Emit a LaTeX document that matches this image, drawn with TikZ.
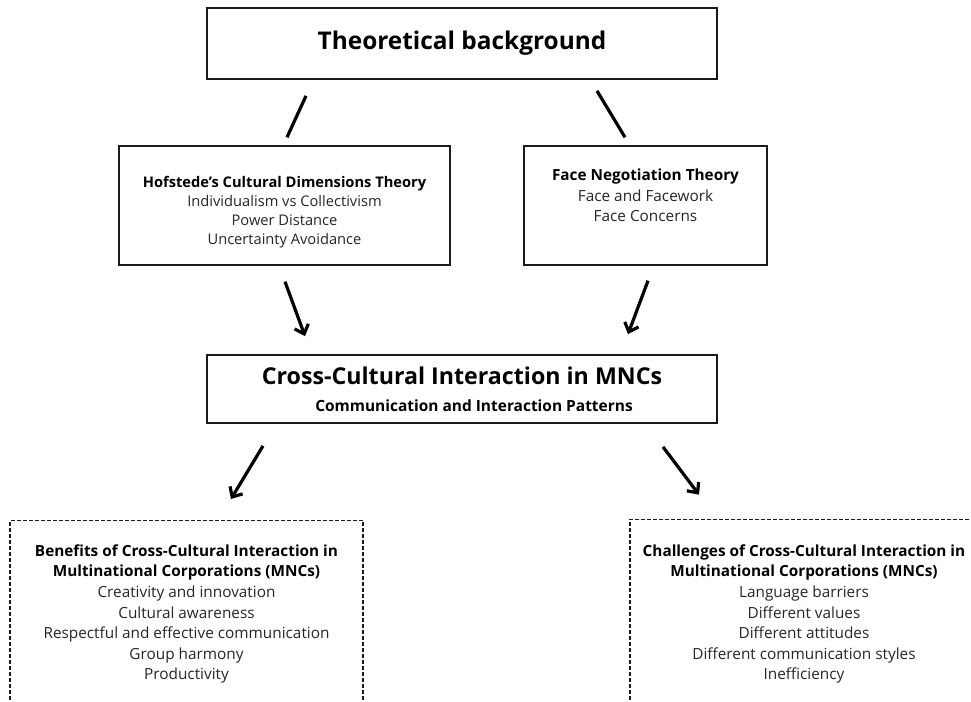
\documentclass[tikz,border=0pt]{standalone}
\usepackage{fontspec}
\setmainfont{Open Sans}
\usepackage{xcolor}
\usetikzlibrary{arrows.meta,calc}
\definecolor{BoxLine}{HTML}{1A1A1A}
\definecolor{BodyText}{HTML}{262626}

\begin{document}
\begin{tikzpicture}[x=0.75pt, y=-0.75pt,
    mainbox/.style={draw=BoxLine, line width=1.3pt, fill=white, align=center,
                    inner sep=0pt, text=black},
    theorybox/.style={mainbox, font=\fontsize{11.5}{15.4}\selectfont},
    dashbox/.style={draw=BoxLine, line width=1pt, dash pattern=on 3pt off 1.5pt,
                    align=center, inner sep=0pt, font=\fontsize{11.5}{15.4}\selectfont},
    link/.style={line width=2.4pt, draw=black},
    arrow/.style={link, -{Straight Barb[length=6pt, width=11pt, line width=2.4pt]}}
]
    \useasboundingbox (0,0) rectangle (971,702);

    \node[mainbox, minimum width=382.5pt, minimum height=53.25pt,
          font=\fontsize{18.3}{22}\selectfont\bfseries] (theory) at (462,43.5)
        {Theoretical background};

    \node[theorybox, minimum width=248pt, minimum height=89pt,
          font=\fontsize{11}{14.3}\selectfont] (hof) at (284.5,205.5)
        {\mbox{}\\[3.7pt]
        \textbf{Hofstede’s Cultural Dimensions Theory}\\
        {\color{BodyText}Individualism vs Collectivism}\\
        {\color{BodyText}Power Distance}\\
        {\color{BodyText}Uncertainty Avoidance}};
    \node[theorybox, minimum width=182pt, minimum height=89pt] (face) at (645.5,205.5)
        {\textbf{Face Negotiation Theory}\\
        {\color{BodyText}Face and Facework}\\
        {\color{BodyText}Face Concerns}\\};

    \draw[link] ($(theory.south)+(-156,16)$) -- ($(hof.north)+(2.5,-8)$);
    \draw[link] ($(theory.south)+(135,11)$) -- ($(face.north)+(-20.5,-8)$);

    \node[mainbox, minimum width=382.5pt, minimum height=51pt,
          font=\fontsize{11.6}{20.4}\selectfont] (cross) at (462,389)
        {{\fontsize{17.4}{20}\selectfont\bfseries Cross-Cultural Interaction in MNCs}\\
        {\hspace*{18pt}\bfseries Communication and Interaction Patterns}};

    \draw[arrow] ($(hof.south)+(0.5,16)$) -- ($(cross.north)+(-157,-18)$);
    \draw[arrow] ($(face.south)+(2.5,15)$) -- ($(cross.north)+(166,-20)$);

    \node[dashbox, minimum width=264.75pt, minimum height=140pt] (benefits) at (186.5,614)
        {\textbf{Benefits of Cross-Cultural Interaction in}\\
        \textbf{Multinational Corporations (MNCs)}\\
        {\color{BodyText}Creativity and innovation}\\
        {\color{BodyText}Cultural awareness}\\
        {\color{BodyText}Respectful and effective communication}\\
        {\color{BodyText}Group harmony}\\
        {\color{BodyText}Productivity}};
    \node[dashbox, minimum width=261pt, minimum height=142pt] (challenges) at (804,614)
        {\textbf{Challenges of Cross-Cultural Interaction in}\\
        \textbf{Multinational Corporations (MNCs)}\\
        {\color{BodyText}Language barriers}\\
        {\color{BodyText}Different values}\\
        {\color{BodyText}Different attitudes}\\
        {\color{BodyText}Different communication styles}\\
        {\color{BodyText}Inefficiency}};

    \draw[arrow] ($(cross.south)+(-199,22)$) -- ($(benefits.north)+(44.5,-21)$);
    \draw[arrow] ($(cross.south)+(201,23)$) -- ($(challenges.north)+(-105,-24)$);
\end{tikzpicture}
\end{document}
